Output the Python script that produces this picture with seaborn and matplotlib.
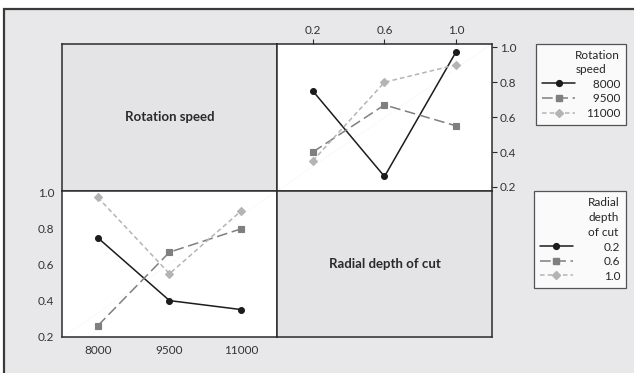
import numpy as np
import pandas as pd
import matplotlib
matplotlib.use("Agg")
import matplotlib.pyplot as plt
import seaborn as sns
from matplotlib.lines import Line2D
from matplotlib.patches import Rectangle

# --- data: mean response for each rotation speed, columns follow depths ---
speeds = ["8000", "9500", "11000"]
depths = ["0.2", "0.6", "1.0"]
resp_8000 = [0.75, 0.26, 0.975]
resp_9500 = [0.40, 0.67, 0.55]
resp_11000 = [0.35, 0.80, 0.90]
y_ticks = [0.2, 0.4, 0.6, 0.8, 1.0]

rows = []
for sp, vals in zip(speeds, [resp_8000, resp_9500, resp_11000]):
    for d, v in zip(depths, vals):
        rows.append({"speed": sp, "depth": d, "resp": v})
df = pd.DataFrame(rows)

# --- style ---
sns.set_theme(style="white")
plt.rcParams['font.family'] = ['Lato', 'DejaVu Sans']

bg = "#E8E8EA"
dark = "#2b2b2b"
colors = ["#1c1c1c", "#7f7f7f", "#b4b4b4"]
markers = ["o", "s", "D"]
styles = ["-", (0, (7, 3)), (0, (3, 2))]

fig = plt.figure(figsize=(6.34, 3.73), dpi=100)
fig.patch.set_facecolor("white")
fig.patches.append(Rectangle((0.0063, -0.05), 1.1, 0.976 + 0.05,
                             transform=fig.transFigure, facecolor=bg,
                             edgecolor="#3a3a3a", linewidth=1.6, zorder=-10))

ax_tl = fig.add_axes([0.0978, 0.488, 0.3391, 0.394])
ax_tr = fig.add_axes([0.4369, 0.488, 0.3391, 0.394])
ax_bl = fig.add_axes([0.0978, 0.0955, 0.3391, 0.3925])
ax_br = fig.add_axes([0.4369, 0.0955, 0.3391, 0.3925])

# label panels
for ax, txt in [(ax_tl, "Rotation speed"), (ax_br, "Radial depth of cut")]:
    ax.set_facecolor("#E4E4E6")
    ax.set_xticks([])
    ax.set_yticks([])
    ax.text(0.5, 0.5, txt, transform=ax.transAxes, ha="center", va="center",
            fontsize=9.5, fontweight="bold", color="#2a2a2a")

# top-right: x = radial depth, lines = rotation speed
sns.pointplot(data=df, x="depth", y="resp", hue="speed", order=depths,
              hue_order=speeds, palette=colors, markers=markers,
              linestyles=styles, markersize=4.2, linewidth=1.1,
              errorbar=None, legend=False, ax=ax_tr)
ax_tr.set_xlim(-0.5, 2.5)
ax_tr.set_ylim(0.177, 1.019)
ax_tr.xaxis.tick_top()
ax_tr.yaxis.tick_right()

# bottom-left: x = rotation speed, lines = radial depth
sns.pointplot(data=df, x="speed", y="resp", hue="depth", order=speeds,
              hue_order=depths, palette=colors, markers=markers,
              linestyles=styles, markersize=4.2, linewidth=1.1,
              errorbar=None, legend=False, ax=ax_bl)
ax_bl.set_xlim(-0.5, 2.5)
ax_bl.set_ylim(0.195, 1.011)

for ax in [ax_tr, ax_bl]:
    ax.set_facecolor("white")
    ax.set_yticks(y_ticks)
    ax.set_yticklabels([f"{t:.1f}" for t in y_ticks])
    ax.set_xlabel("")
    ax.set_ylabel("")
    ax.tick_params(length=3.5, width=0.8, color=dark, labelsize=8.5,
                   labelcolor="#333333", pad=2)
    ax.plot([0, 1], [0, 1], transform=ax.transAxes, color="#eeeeee",
            lw=0.6, ls=":", zorder=0)

for ax in [ax_tl, ax_tr, ax_bl, ax_br]:
    for sp in ax.spines.values():
        sp.set_visible(True)
        sp.set_color(dark)
        sp.set_linewidth(1.1)

# legends
def make_handles():
    return [Line2D([0], [0], color=c, marker=m, linestyle=s, lw=1.1,
                   markersize=4.2)
            for c, m, s in zip(colors, markers, styles)]

def pad_labels(labels):
    w = max(len(l) for l in labels)
    return ["\u2007" * (w - len(l)) + l for l in labels]

legend_specs = [
    (speeds, "Rotation\nspeed", 1 - 44 / 373, 0.9, 0.3, 1.35),
    (depths, "Radial\ndepth\nof cut", 1 - 191 / 373, 2.6, 0.3, 1.45),
]
for labels, title, top, tpad, lspace, tline in legend_specs:
    leg = fig.legend(make_handles(), pad_labels(labels), title=title,
                     loc="upper right", bbox_to_anchor=(626 / 634, top),
                     fontsize=8.5, title_fontsize=8.5, frameon=True,
                     fancybox=False, handlelength=2.8, labelspacing=lspace,
                     borderpad=0.5, handletextpad=tpad, alignment="right",
                     borderaxespad=0)
    leg.get_frame().set_edgecolor(dark)
    leg.get_frame().set_linewidth(0.9)
    leg.get_frame().set_facecolor("white")
    leg.get_title().set_linespacing(tline)

fig.savefig("out.png", dpi=100, facecolor=fig.get_facecolor())
